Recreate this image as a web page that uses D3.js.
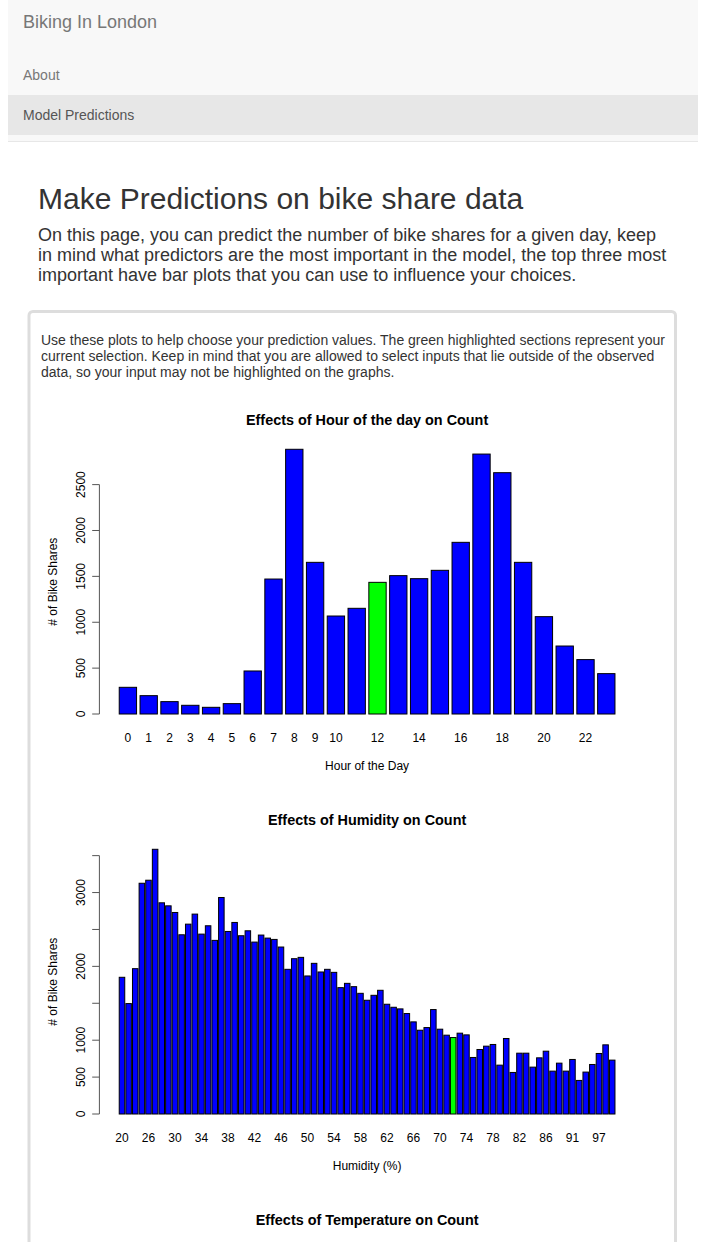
<!DOCTYPE html>
<html>
<head>
<meta charset="utf-8">
<script src="https://cdn.jsdelivr.net/npm/d3@7"></script>
<style>
  html, body { margin: 0; padding: 0; background: #fff; }
  svg { display: block; }
  text { font-family: "Liberation Sans", Arial, Helvetica, sans-serif; }
</style>
</head>
<body>
<svg id="page" width="706" height="1242"></svg>
<script>
// ---------------- DATA ----------------
const hourCategories = ["0","1","2","3","4","5","6","7","8","9","10","11","12","13","14","15","16","17","18","19","20","21","22","23"];
const hourCounts = [291,200,135,95,73,113,469,1471,2885,1653,1068,1152,1435,1508,1475,1566,1871,2833,2630,1653,1061,741,593,440];
const hourTickLabels = ["0","1","2","3","4","5","6","7","8","9","10","12","14","16","18","20","22"];
const hourSelected = "12";
const hourYTicks = [0,500,1000,1500,2000,2500];
const hourYTickLabels = ["0","500","1000","1500","2000","2500"];

const humidityCategories = ["20","22","24","25","26","27","28","29","30","31","32","33","34","35","36","37","38","39","40","41","42","43","44","45","46","47","48","49","50","51","52","53","54","55","56","57","58","59","60","61","62","63","64","65","66","67","68","69","70","71","72","73","74","75","76","77","78","79","80","81","82","83","84","85","86","87","88","90","91","93","94","96","97","98","100"];
const humidityCounts = [1852,1496,1969,3126,3167,3586,2861,2820,2730,2428,2572,2708,2437,2550,2352,2933,2473,2595,2415,2482,2329,2424,2383,2365,2262,1960,2104,2122,1870,2041,1924,1960,1919,1712,1770,1725,1635,1541,1608,1676,1487,1446,1424,1361,1248,1135,1171,1415,1149,1068,1036,1095,1072,766,874,919,942,662,1023,563,824,824,635,761,851,581,689,581,739,455,568,671,820,937,730];
const humidityTickLabels = ["20","26","30","34","38","42","46","50","54","58","62","66","70","74","78","82","86","91","97"];
const humiditySelected = "72";
const humidityYTicks = [0,500,1000,1500,2000,2500,3000,3500];
const humidityYTickLabels = ["0","500","1000","","2000","","3000",""];

const navBrand = "Biking In London";
const navItems = ["About","Model Predictions"];
const pageTitle = "Make Predictions on bike share data";
const introLines = [
  "On this page, you can predict the number of bike shares for a given day, keep",
  "in mind what predictors are the most important in the model, the top three most",
  "important have bar plots that you can use to influence your choices."
];
const helpLines = [
  "Use these plots to help choose your prediction values. The green highlighted sections represent your",
  "current selection. Keep in mind that you are allowed to select inputs that lie outside of the observed",
  "data, so your input may not be highlighted on the graphs."
];
const chartTitles = ["Effects of Hour of the day on Count","Effects of Humidity on Count","Effects of Temperature on Count"];
const xTitles = ["Hour of the Day","Humidity (%)"];
const yTitle = "# of Bike Shares";

// ---------------- PAGE ----------------
const svg = d3.select("#page");
svg.append("rect").attr("width",706).attr("height",1242).attr("fill","#fff");

// navbar
svg.append("rect").attr("x",8).attr("y",0).attr("width",690).attr("height",142).attr("fill","#f8f8f8");
svg.append("rect").attr("x",8).attr("y",95).attr("width",690).attr("height",40).attr("fill","#e7e7e7");
svg.append("line").attr("x1",8).attr("x2",698).attr("y1",141.5).attr("y2",141.5).attr("stroke","#e7e7e7");
svg.append("text").attr("x",23).attr("y",28).attr("font-size",18).attr("fill","#777").text(navBrand);
svg.append("text").attr("x",23).attr("y",80).attr("font-size",14).attr("fill","#777").text(navItems[0]);
svg.append("text").attr("x",23).attr("y",120).attr("font-size",14).attr("fill","#555").text(navItems[1]);

// heading + intro
svg.append("text").attr("x",38).attr("y",209).attr("font-size",30).attr("fill","#333").text(pageTitle);
svg.append("g").selectAll("text").data(introLines).join("text")
  .attr("x",38).attr("y",(d,i)=>241+i*20).attr("font-size",18).attr("fill","#333").text(d=>d);

// panel
svg.append("rect").attr("x",29).attr("y",311.5).attr("width",646.5).attr("height",1100)
  .attr("rx",4).attr("fill","#fff").attr("stroke","#ddd").attr("stroke-width",3);
svg.append("g").selectAll("text").data(helpLines).join("text")
  .attr("x",41).attr("y",(d,i)=>345+i*16).attr("font-size",14).attr("fill","#333").text(d=>d);

// ---------------- CHARTS ----------------
const plotLeft = 99.4, plotRight = 634.8;
function figTop(i){ return 399 + 400*i; }

function barChart(idx, cats, vals, selected, tickLabels, yTicks, yTickLabels, xTitle){
  const T = figTop(idx);
  const top = T + 39.7, bottom = T + 325.6;
  const g = svg.append("g");
  const n = cats.length;
  const span = 1.2*n - 0.2;
  const units = d3.scaleLinear()
    .domain([0.2 - 0.04*span, 1.2*n + 0.04*span])
    .range([plotLeft, plotRight]);
  const x = d3.scaleBand().domain(cats)
    .range([units(0.2), units(1.2*n)])
    .paddingInner(1/6).paddingOuter(0);
  const maxV = d3.max(vals);
  const y = d3.scaleLinear().domain([-0.04*maxV, 1.04*maxV]).range([bottom, top]);

  // title
  g.append("text").attr("x",(plotLeft+plotRight)/2).attr("y",T+25.5)
    .attr("text-anchor","middle").attr("font-size",14.4).attr("font-weight","bold").attr("fill","#000")
    .text(chartTitles[idx]);

  // bars
  g.append("g").selectAll("rect").data(cats).join("rect")
    .attr("x",d=>x(d)).attr("width",x.bandwidth())
    .attr("y",(d,i)=>y(vals[i])).attr("height",(d,i)=>y(0)-y(vals[i]))
    .attr("fill",d=>d===selected ? "#00ff00" : "#0000ff")
    .attr("stroke","#000").attr("stroke-width",1);

  // y axis
  const ya = g.append("g");
  ya.append("line").attr("x1",plotLeft).attr("x2",plotLeft)
    .attr("y1",y(yTicks[0])).attr("y2",y(yTicks[yTicks.length-1]))
    .attr("stroke","#555");
  ya.selectAll("line.tick").data(yTicks).join("line").attr("class","tick")
    .attr("x1",plotLeft).attr("x2",plotLeft-7.2)
    .attr("y1",d=>y(d)).attr("y2",d=>y(d)).attr("stroke","#555");
  ya.selectAll("text").data(yTicks).join("text")
    .attr("transform",d=>`translate(85,${y(d)}) rotate(-90)`)
    .attr("text-anchor","middle").attr("font-size",12).attr("fill","#000")
    .text((d,i)=>yTickLabels[i]);
  g.append("text").attr("transform",`translate(56.5,${(top+bottom)/2}) rotate(-90)`)
    .attr("text-anchor","middle").attr("font-size",12).attr("fill","#000").text(yTitle);

  // x labels
  g.append("g").selectAll("text").data(tickLabels).join("text")
    .attr("x",d=>x(d)+x.bandwidth()/2).attr("y",bottom+17.2)
    .attr("text-anchor","middle").attr("font-size",12).attr("fill","#000").text(d=>d);
  g.append("text").attr("x",(plotLeft+plotRight)/2).attr("y",bottom+45)
    .attr("text-anchor","middle").attr("font-size",12).attr("fill","#000").text(xTitle);
}

barChart(0, hourCategories, hourCounts, hourSelected, hourTickLabels, hourYTicks, hourYTickLabels, xTitles[0]);
barChart(1, humidityCategories, humidityCounts, humiditySelected, humidityTickLabels, humidityYTicks, humidityYTickLabels, xTitles[1]);

// third figure: only its title falls inside the window
svg.append("text").attr("x",(plotLeft+plotRight)/2).attr("y",figTop(2)+25.5)
  .attr("text-anchor","middle").attr("font-size",14.4).attr("font-weight","bold").attr("fill","#000")
  .text(chartTitles[2]);
</script>
</body>
</html>
